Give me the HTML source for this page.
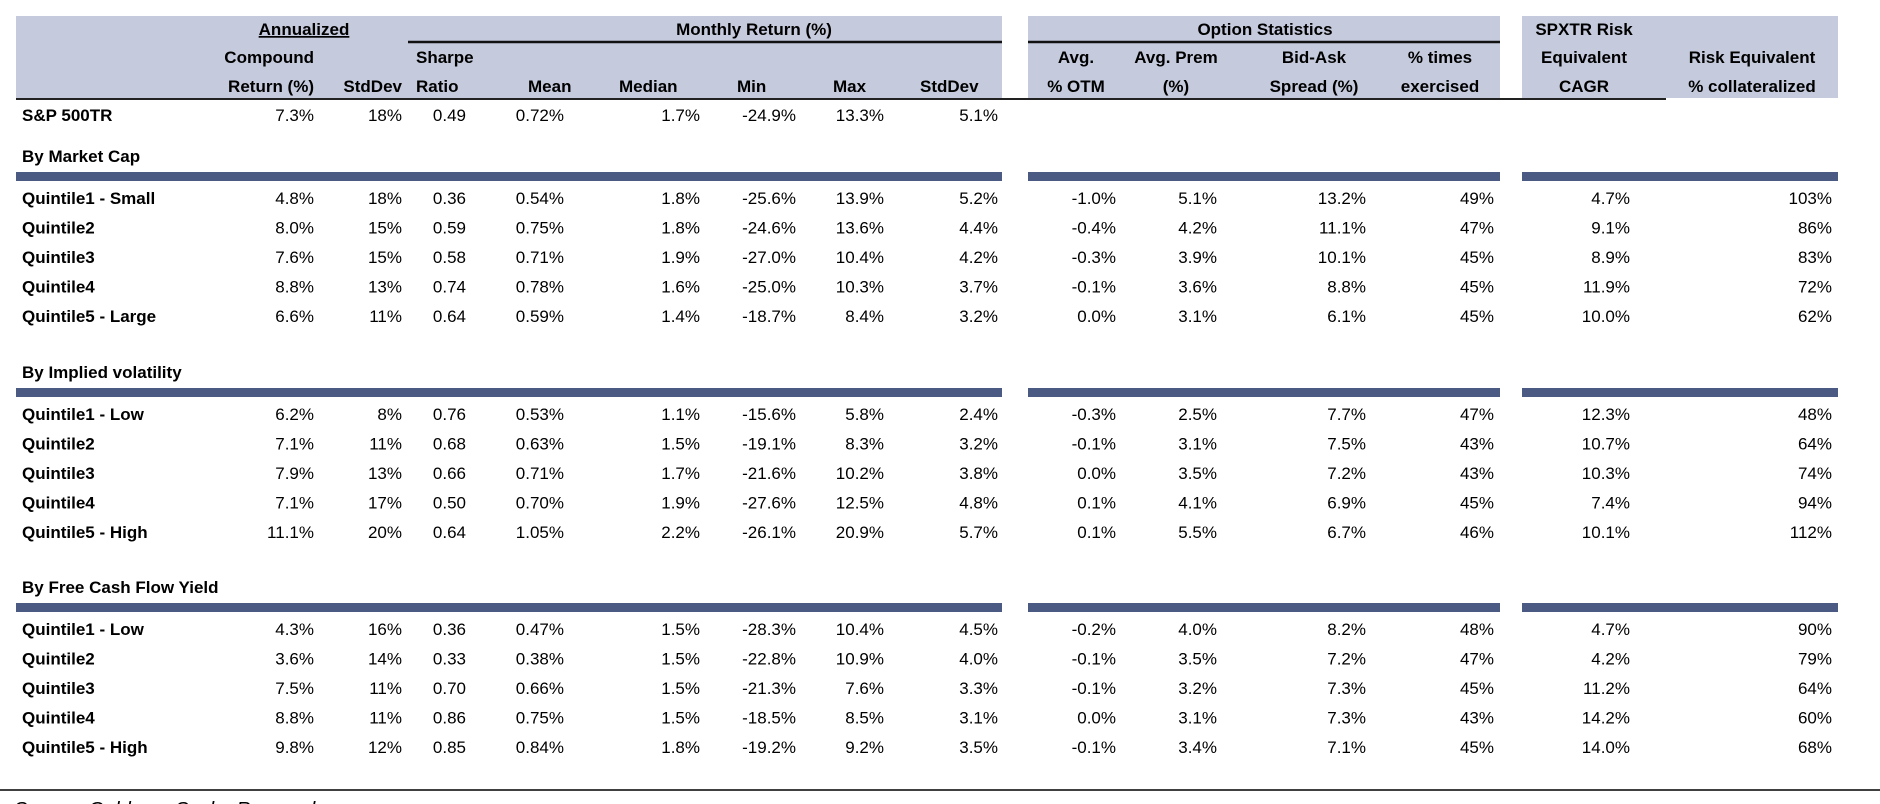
<!DOCTYPE html>
<html><head><meta charset="utf-8"><style>
html,body{margin:0;padding:0;background:#fff;}
svg{display:block;font-family:"Liberation Sans",Arial,sans-serif;}
.h{font-weight:bold;font-size:17px;fill:#000;}
.d{font-size:17px;fill:#000;}
.l{font-weight:bold;font-size:17px;fill:#000;}
</style></head><body>
<svg id="t" width="1880" height="804" viewBox="0 0 1880 804">
<g>
<rect x="16" y="16" width="986" height="82" fill="#c5cbdd"/>
<rect x="1028" y="16" width="472" height="82" fill="#c5cbdd"/>
<rect x="1522" y="16" width="316" height="82" fill="#c5cbdd"/>
<text class="h" x="304" y="35" text-anchor="middle" text-decoration="underline">Annualized</text>
<text class="h" x="754" y="35" text-anchor="middle">Monthly Return (%)</text>
<line x1="408" y1="42" x2="1002" y2="42" stroke="#111" stroke-width="2.5"/>
<text class="h" x="1265" y="35" text-anchor="middle">Option Statistics</text>
<line x1="1028" y1="42" x2="1500" y2="42" stroke="#111" stroke-width="2.5"/>
<text class="h" x="1584" y="35" text-anchor="middle">SPXTR Risk</text>
<line x1="16" y1="99" x2="1666" y2="99" stroke="#222" stroke-width="2"/>
</g>
<g id="body"></g>
<line x1="0" y1="790" x2="1880" y2="790" stroke="#000" stroke-width="1.5"/>
<text x="14" y="816" font-style="italic" font-size="20" fill="#000">Source: Goldman Sachs Research</text>
</svg>
<script>
const colRight=[314,402,466,564,700,796,884,998,1116,1217,1366,1494,1630,1832];
const spRow=["7.3%","18%","0.49","0.72%","1.7%","-24.9%","13.3%","5.1%"];
const groupTitles=["By Market Cap","By Implied volatility","By Free Cash Flow Yield"];
const capLabels=["Quintile1 - Small","Quintile2","Quintile3","Quintile4","Quintile5 - Large"];
const ivLabels=["Quintile1 - Low","Quintile2","Quintile3","Quintile4","Quintile5 - High"];
const fcfLabels=["Quintile1 - Low","Quintile2","Quintile3","Quintile4","Quintile5 - High"];
const capRows=[
["4.8%","18%","0.36","0.54%","1.8%","-25.6%","13.9%","5.2%","-1.0%","5.1%","13.2%","49%","4.7%","103%"],
["8.0%","15%","0.59","0.75%","1.8%","-24.6%","13.6%","4.4%","-0.4%","4.2%","11.1%","47%","9.1%","86%"],
["7.6%","15%","0.58","0.71%","1.9%","-27.0%","10.4%","4.2%","-0.3%","3.9%","10.1%","45%","8.9%","83%"],
["8.8%","13%","0.74","0.78%","1.6%","-25.0%","10.3%","3.7%","-0.1%","3.6%","8.8%","45%","11.9%","72%"],
["6.6%","11%","0.64","0.59%","1.4%","-18.7%","8.4%","3.2%","0.0%","3.1%","6.1%","45%","10.0%","62%"]];
const ivRows=[
["6.2%","8%","0.76","0.53%","1.1%","-15.6%","5.8%","2.4%","-0.3%","2.5%","7.7%","47%","12.3%","48%"],
["7.1%","11%","0.68","0.63%","1.5%","-19.1%","8.3%","3.2%","-0.1%","3.1%","7.5%","43%","10.7%","64%"],
["7.9%","13%","0.66","0.71%","1.7%","-21.6%","10.2%","3.8%","0.0%","3.5%","7.2%","43%","10.3%","74%"],
["7.1%","17%","0.50","0.70%","1.9%","-27.6%","12.5%","4.8%","0.1%","4.1%","6.9%","45%","7.4%","94%"],
["11.1%","20%","0.64","1.05%","2.2%","-26.1%","20.9%","5.7%","0.1%","5.5%","6.7%","46%","10.1%","112%"]];
const fcfRows=[
["4.3%","16%","0.36","0.47%","1.5%","-28.3%","10.4%","4.5%","-0.2%","4.0%","8.2%","48%","4.7%","90%"],
["3.6%","14%","0.33","0.38%","1.5%","-22.8%","10.9%","4.0%","-0.1%","3.5%","7.2%","47%","4.2%","79%"],
["7.5%","11%","0.70","0.66%","1.5%","-21.3%","7.6%","3.3%","-0.1%","3.2%","7.3%","45%","11.2%","64%"],
["8.8%","11%","0.86","0.75%","1.5%","-18.5%","8.5%","3.1%","0.0%","3.1%","7.3%","43%","14.2%","60%"],
["9.8%","12%","0.85","0.84%","1.8%","-19.2%","9.2%","3.5%","-0.1%","3.4%","7.1%","45%","14.0%","68%"]];
const NS="http://www.w3.org/2000/svg";
const svg=document.getElementById('t');
const body=document.getElementById('body');
function txt(parent,x,y,s,cls,anchor){
  const t=document.createElementNS(NS,'text');
  t.setAttribute('x',x);t.setAttribute('y',y);t.setAttribute('class',cls);
  if(anchor)t.setAttribute('text-anchor',anchor);
  t.textContent=s;parent.appendChild(t);return t;
}
const hdr=[["Compound","Return (%)",314,"end"],["","StdDev",402,"end"],["Sharpe","Ratio",416,"start"],["","Mean",528,"start"],["","Median",619,"start"],["","Min",737,"start"],["","Max",833,"start"],["","StdDev",920,"start"],
["Avg.","% OTM",1076,"middle"],["Avg. Prem","(%)",1176,"middle"],["Bid-Ask","Spread (%)",1314,"middle"],["% times","exercised",1440,"middle"],["Equivalent","CAGR",1584,"middle"],["Risk Equivalent","% collateralized",1752,"middle"]];
hdr.forEach(h=>{
  if(h[0]){const a=txt(svg,h[2],63,h[0],'h',h[3]);
  
  }
  const b=txt(svg,h[2],92,h[1],'h',h[3]);
  
  
});
function row(vals,label,cy){
  const g=document.createElementNS(NS,'g');
  
  
  const l=txt(g,22,cy+6,label,'l');
  
  
  vals.forEach((v,i)=>{const c=txt(g,colRight[i],cy+6,v,'d','end');
    
    });
  body.appendChild(g);
}
row(spRow,"S&P 500TR",115);
const groups=[[capLabels,capRows,156],[ivLabels,ivRows,372],[fcfLabels,fcfRows,587]];
groups.forEach((gr,gi)=>{
  const top=gr[2];
  const gt=txt(body,22,top+6,groupTitles[gi],'l');
  
  
  [[16,986],[1028,472],[1522,316]].forEach(p=>{
    const r=document.createElementNS(NS,'rect');
    r.setAttribute('x',p[0]);r.setAttribute('y',top+16);r.setAttribute('width',p[1]);r.setAttribute('height',9);
    r.setAttribute('fill','#4a5a82');
    
    
    body.appendChild(r);
  });
  gr[1].forEach((vals,i)=>row(vals,gr[0][i],top+42+i*29.5));
});
</script>
</body></html>
